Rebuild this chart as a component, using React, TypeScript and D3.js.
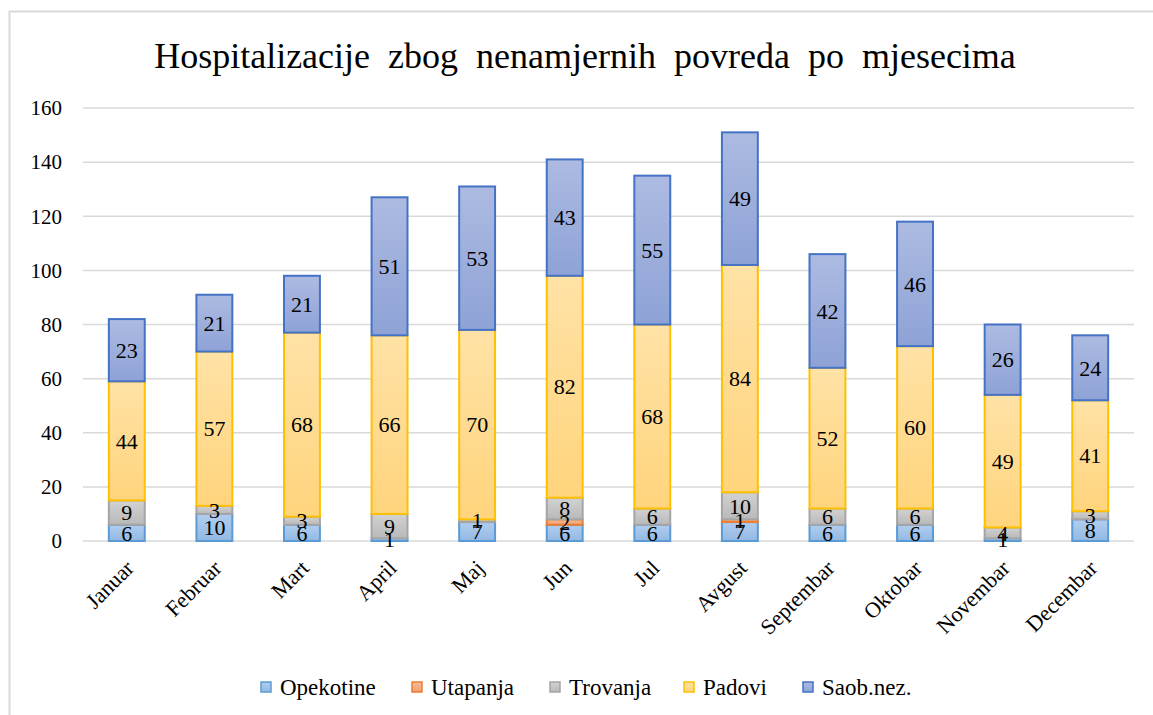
import React from 'react'
import * as d3 from 'd3'

const months = ['Januar', 'Februar', 'Mart', 'April', 'Maj', 'Jun', 'Jul', 'Avgust', 'Septembar', 'Oktobar', 'Novembar', 'Decembar']
const opekotine = [6, 10, 6, 1, 7, 6, 6, 7, 6, 6, 1, 8]
const utapanja = [0, 0, 0, 0, 0, 2, 0, 1, 0, 0, 0, 0]
const trovanja = [9, 3, 3, 9, 1, 8, 6, 10, 6, 6, 4, 3]
const padovi = [44, 57, 68, 66, 70, 82, 68, 84, 52, 60, 49, 41]
const saobNez = [23, 21, 21, 51, 53, 43, 55, 49, 42, 46, 26, 24]
const yTicks = [0, 20, 40, 60, 80, 100, 120, 140, 160]

const seriesNames = ['Opekotine', 'Utapanja', 'Trovanja', 'Padovi', 'Saob.nez.']
const seriesValues = [opekotine, utapanja, trovanja, padovi, saobNez]
const strokes = ['#5b9bd5', '#ed7d31', '#a5a5a5', '#ffc000', '#4472c4']
const gradTop = ['#b1cdef', '#f7bb97', '#d2d2d2', '#ffe2a6', '#adbbe2']
const gradBottom = ['#92b9e3', '#f0a070', '#b9b9b9', '#ffd47c', '#8ea2d6']

const font = 'Liberation Serif, DejaVu Serif, Times New Roman, serif'

const App = () => {
	const width = 1153
	const height = 715
	const left = 83
	const right = 1134
	const top = 108
	const bottom = 541

	const x = d3.scaleBand().domain(months).range([left, right]).paddingInner(0.59).paddingOuter(0.295)
	const y = d3.scaleLinear().domain([0, 160]).range([bottom, top])

	const rows = months.map((m, i) => {
		const r: any = { month: m }
		seriesNames.forEach((s, k) => (r[s] = seriesValues[k][i]))
		return r
	})
	const stacked = d3.stack().keys(seriesNames)(rows)

	const legendX = [261, 412, 550, 684, 803]
	const txt = { fontFamily: font, fill: '#000' }

	return (
		<svg width={width} height={height} style={{ position: 'absolute', left: 0, top: 0, fontFamily: font }}>
			<defs>
				{seriesNames.map((s, k) => (
					<linearGradient key={s} id={`g${k}`} x1="0" y1="0" x2="0" y2="1">
						<stop offset="0%" stopColor={gradTop[k]} />
						<stop offset="100%" stopColor={gradBottom[k]} />
					</linearGradient>
				))}
			</defs>
			<rect x={0} y={0} width={width} height={height} fill="#fff" />
			<rect x={9.5} y={11.5} width={1160} height={720} fill="#fff" stroke="#d9d9d9" strokeWidth={2} />

			{/* title */}
			<text x={585} y={68} textAnchor="middle" fontSize={36} style={{ ...txt, whiteSpace: 'pre' }}>
				{'Hospitalizacije  zbog  nenamjernih  povreda  po  mjesecima'}
			</text>

			{/* grid */}
			{yTicks.map((t) => (
				<g key={t}>
					<line x1={left} x2={right} y1={y(t)} y2={y(t)} stroke="#d9d9d9" strokeWidth={1.5} />
					<text x={62} y={y(t)} dy="0.35em" textAnchor="end" fontSize={21} style={txt}>
						{t}
					</text>
				</g>
			))}

			{/* bars */}
			{stacked.map((layer, k) => (
				<g key={layer.key}>
					{layer.map((d, i) => {
						const v = d[1] - d[0]
						if (v <= 0) return null
						return (
							<rect
								key={i}
								x={x(months[i])}
								y={y(d[1])}
								width={x.bandwidth()}
								height={y(d[0]) - y(d[1])}
								fill={`url(#g${k})`}
								stroke={strokes[k]}
								strokeWidth={2}
							/>
						)
					})}
				</g>
			))}

			{/* data labels */}
			{stacked.map((layer) => (
				<g key={layer.key + 'l'}>
					{layer.map((d, i) => {
						const v = d[1] - d[0]
						if (v <= 0) return null
						return (
							<text
								key={i}
								x={(x(months[i]) as number) + x.bandwidth() / 2}
								y={y((d[0] + d[1]) / 2)}
								dy="0.35em"
								textAnchor="middle"
								fontSize={22}
								style={txt}
							>
								{v}
							</text>
						)
					})}
				</g>
			))}

			{/* x labels */}
			{months.map((m) => {
				const cx = (x(m) as number) + x.bandwidth() / 2 + 3
				return (
					<text
						key={m}
						transform={`translate(${cx},${bottom + 23}) rotate(-45)`}
						textAnchor="end"
						dy="0.35em"
						fontSize={22}
						style={txt}
					>
						{m}
					</text>
				)
			})}

			{/* legend */}
			{seriesNames.map((s, k) => (
				<g key={s} transform={`translate(${legendX[k]},${687})`}>
					<rect x={0} y={-5} width={10} height={10} fill={`url(#g${k})`} stroke={strokes[k]} strokeWidth={1.5} />
					<text x={19} y={0} dy="0.35em" fontSize={23} style={txt}>
						{s}
					</text>
				</g>
			))}
		</svg>
	)
}

export default App
